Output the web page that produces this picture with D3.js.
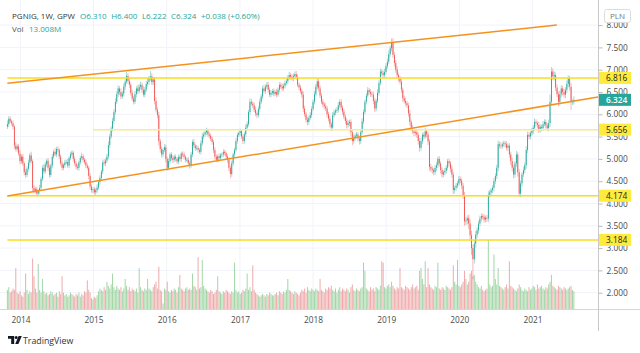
<!DOCTYPE html>
<html><head><meta charset="utf-8">
<script src="https://cdn.jsdelivr.net/npm/d3@7"></script>
<style>html,body{margin:0;padding:0;background:#fff}svg{display:block;font-family:"Open Sans","Noto Sans",sans-serif}</style>
</head><body><svg id="c" width="640" height="353"></svg>
<script>
// ---------------- DATA ----------------
const firstWeek = "2013-10-28";   // weekly candles, Mondays
const firstOpen = 5.72;
const closes = [
5.78,5.90,5.84,5.80,5.72,5.30,5.22,5.28,5.12,4.95,
5.05,4.90,4.70,4.64,4.78,4.92,5.08,4.95,4.35,4.28,
4.32,4.22,4.28,4.35,4.55,4.80,4.72,4.88,4.96,4.80,
4.64,4.85,5.05,5.16,5.10,5.22,5.20,5.05,4.90,4.80,
4.86,4.92,4.93,4.85,5.02,5.10,5.14,5.00,4.90,4.82,
4.80,4.92,5.02,5.06,4.98,4.93,4.85,4.80,4.62,4.38,
4.30,4.32,4.25,4.30,4.36,4.48,4.57,4.72,4.92,4.90,
4.96,5.05,5.31,5.50,5.68,5.85,6.05,6.28,6.45,6.58,
6.50,6.40,6.46,6.62,6.73,6.86,6.75,6.66,6.48,6.35,
6.28,6.45,6.58,6.52,6.62,6.66,6.55,6.44,6.55,6.68,
6.73,6.80,6.85,6.72,6.78,6.30,6.10,5.98,5.40,5.22,
5.10,5.20,5.26,5.00,4.80,4.95,5.10,5.02,4.98,5.05,
5.00,4.94,5.04,5.00,5.12,5.10,5.04,4.98,4.98,4.90,
4.85,5.10,5.38,5.30,5.24,5.25,5.20,5.16,5.35,5.50,
5.55,5.60,5.64,5.55,5.52,5.45,5.38,5.20,5.05,4.98,
5.06,5.02,5.08,5.10,5.16,5.13,5.05,4.98,4.80,4.66,
4.90,5.10,5.20,5.40,5.54,5.58,5.62,5.50,5.40,5.55,
5.70,5.78,6.05,6.28,6.24,6.20,6.10,6.02,5.98,6.12,
6.28,6.40,6.58,6.52,6.62,6.66,6.55,6.44,6.48,6.52,
6.46,6.50,6.44,6.55,6.66,6.62,6.58,6.64,6.70,6.74,
6.82,6.88,6.84,6.80,6.86,6.90,6.84,6.66,6.60,6.52,
6.44,6.13,6.00,5.88,5.83,5.92,5.98,6.12,6.28,6.45,
6.62,6.74,6.58,6.42,6.28,6.22,6.18,6.13,6.00,5.90,
5.78,5.70,5.98,6.04,6.08,6.10,6.20,6.28,6.15,6.06,
5.95,5.85,5.76,5.80,5.83,5.60,5.40,5.48,5.52,5.55,
5.46,5.40,5.60,5.84,6.05,6.28,6.42,6.54,6.50,6.46,
6.44,6.30,6.13,6.30,6.48,6.70,6.96,6.92,6.88,6.95,
7.08,7.18,7.35,7.48,7.62,7.33,7.15,7.00,6.88,6.80,
6.73,6.55,6.36,6.30,6.25,6.20,6.02,5.83,5.70,5.62,
5.58,5.60,5.54,5.40,5.25,5.40,5.54,5.50,5.62,5.55,
5.39,4.82,4.78,4.75,4.70,4.80,4.86,5.00,4.90,4.75,
4.65,4.70,4.73,4.80,4.95,4.90,4.78,4.65,4.30,4.35,
4.40,4.45,4.55,4.52,4.40,4.18,3.60,3.62,3.67,3.55,
3.29,3.00,2.75,3.10,3.30,3.40,3.55,3.66,3.72,3.70,
3.64,3.68,3.66,4.20,4.25,4.30,4.35,4.50,4.62,4.80,
5.33,5.30,5.28,5.33,5.35,5.33,5.25,5.30,5.10,4.95,
4.80,4.65,4.90,5.10,4.70,4.22,4.45,4.65,4.75,4.86,
5.20,5.54,5.50,5.58,5.62,5.70,5.83,5.80,5.76,5.65,
5.72,5.69,5.78,5.83,5.75,5.69,5.80,6.28,6.96,6.85,
6.88,6.60,6.45,6.28,6.45,6.58,6.50,6.44,6.55,6.68,
6.80,6.62,6.28,6.286,6.324
];
// wick extent above the body / below the body, in grosze (0.01 PLN)
const wickHigh = [
8,6,5,4,6,4,7,5,6,8, 5,6,4,7,5,6,5,8,4,6, 5,6,4,7,5,6,8,5,4,6, 7,5,6,4,8,5,6,4,5,6,
4,6,5,7,4,6,5,4,6,5, 6,4,5,8,5,4,6,5,4,6, 5,4,6,5,7,5,6,4,5,7, 5,6,8,6,5,7,6,8,6,7,
5,8,6,7,6,9,6,8,5,7, 6,7,5,8,6,7,5,8,6,7, 8,6,12,7,6,5,8,6,7,5, 6,5,7,6,5,6,4,5,6,4,
5,4,6,5,4,5,6,4,5,6, 5,6,5,7,4,6,5,4,6,8, 6,5,6,4,5,6,5,4,6,5, 4,6,5,4,6,5,4,5,6,5,
6,4,5,6,5,4,6,5,6,5, 7,6,5,8,6,5,6,7,5,6, 7,5,6,8,5,6,7,5,6,5, 6,5,7,5,6,5,7,5,6,5,
6,7,5,6,5,6,7,6,5,6, 5,7,6,5,6,5,7,6,5,7, 6,5,7,6,5,6,5,7,6,5, 6,5,7,6,5,6,7,5,6,5,
6,5,6,7,5,6,5,6,5,6, 5,6,5,7,6,5,6,7,5,6, 5,7,6,5,8,6,7,5,6,7, 6,7,8,6,8,9,7,6,7,5,
6,7,5,6,7,5,6,7,5,6, 5,6,7,5,6,7,5,6,7,5, 6,5,7,6,5,6,7,5,6,5, 6,5,7,6,5,6,5,7,6,5,
6,5,7,6,5,6,8,7,6,8, 9,10,8,9,8,7,6,7,6,5, 6,5,6,8,6,5,6,7,6,7, 8,6,7,5,6,5,7,6,5,6,
7,6,5,8,6,7,6,5,7,6, 8,7,6,5,7,6,8,6,5,7, 6,5,7,6,5,6,8,16,10,7, 8,6,7,6,8,7,6,7,6,8,
7,6,8,5,7.6
];
const wickLow = [
5,6,4,5,6,8,5,6,5,7, 6,5,7,6,5,6,7,5,8,6, 5,6,5,6,7,5,6,5,6,7, 6,5,6,5,4,6,5,6,5,6,
5,6,4,5,6,5,4,6,5,6, 5,6,5,4,6,5,6,5,8,7, 6,7,5,8,6,5,6,5,6,5, 6,5,6,7,5,6,7,6,5,6,
7,6,5,6,7,5,6,7,6,5, 6,5,7,6,5,6,7,5,6,5, 6,7,5,6,7,8,6,7,10,8, 7,6,5,8,7,6,5,6,7,5,
6,5,6,5,7,6,5,6,5,6, 7,5,6,5,6,5,6,5,6,5, 6,5,6,5,6,5,6,7,6,5, 6,5,6,5,6,5,6,7,8,10,
6,5,6,5,6,5,6,5,7,6, 5,6,5,6,5,6,5,6,7,5, 6,5,6,5,6,5,6,5,6,5, 6,5,6,5,6,5,6,5,6,5,
6,5,6,5,6,5,6,5,6,5, 7,8,6,7,8,6,5,6,5,6, 5,6,7,6,5,6,7,6,7,6, 7,8,6,5,6,5,6,5,6,7,
6,7,8,6,7,9,10,6,7,6, 7,8,6,5,6,5,6,5,6,7, 6,7,8,6,5,6,5,6,7,6, 5,6,5,6,7,6,8,7,6,7,
6,7,8,6,7,6,7,8,7,6, 7,6,7,8,9,6,7,6,5,7, 8,9,7,8,7,6,7,6,7,8, 7,6,7,6,5,7,8,7,9,8,
7,6,5,7,8,8,10,8,9,12, 12,15,45,10,9,8,7,6,7,6, 7,6,7,8,7,6,7,8,6,7, 8,7,6,5,6,7,6,7,8,9,
8,9,7,8,10,7,8,7,6,7, 8,7,6,7,6,7,6,7,8,7, 6,7,6,5,7,6,7,8,9,8, 9,8,7,10,8,7,8,7,8,7,
8,9,18,7,6.4
];
// weekly volume, millions of shares
const volumes = [
14,16,12,13,15,14,30,12,11,13, 10,9,12,26,14,11,13,12,37,24, 15,12,33,14,12,22,13,11,12,10,
11,13,12,10,11,12,9,13,11,24, 12,10,11,9,10,12,11,10,9,11, 10,12,9,11,10,13,12,21,14,12,
8,7,9,8,10,13,15,14,13,16, 14,20,17,15,18,26,16,14,17,15, 14,16,13,15,22,17,14,16,13,15,
14,13,15,12,30,16,14,13,15,14, 22,15,14,13,16,18,20,15,31,14, 13,4,15,14,20,13,12,14,13,15,
14,12,16,25,15,14,13,15,16,14, 15,14,26,17,16,14,38,15,16,36, 17,15,14,13,12,14,13,11,12,14,
24,13,12,11,13,12,14,13,12,11, 13,12,34,14,12,13,11,12,14,13, 15,26,14,16,13,32,14,12,11,10,
9,10,11,10,9,11,10,12,11,10, 10,11,12,10,13,12,11,13,12,14, 22,14,13,12,11,13,12,11,10,12,
14,13,15,12,16,14,13,15,14,13, 15,14,13,22,14,13,12,15,14,16, 15,17,14,13,15,12,14,16,13,15,
14,13,15,14,12,16,18,14,13,15, 14,13,15,16,34,28,15,14,13,16, 14,15,13,16,15,14,17,35,34,16,
15,17,18,16,20,17,15,14,16,15, 30,16,15,14,17,16,15,14,16,18, 15,16,17,14,28,30,22,18,35,16,
30,18,16,15,14,17,16,34,15,14, 16,15,14,17,16,15,14,16,32,20, 18,36,17,16,18,20,28,22,18,20,
26,28,24,25,20,18,16,15,17,14, 13,14,15,51,18,16,17,40,22,18, 30,17,16,15,14,16,18,15,35,17,
16,15,14,13,15,18,16,14,13,15, 14,13,16,14,15,17,16,14,18,15, 16,17,15,14,16,15,18,20,25,17,
16,15,14,17,16,15,14,16,15,14, 15,16,17,14,13.008
];
const priceTicks = [2.0,2.5,3.0,3.5,4.0,4.5,5.0,5.5,6.0,6.5,7.0,7.5,8.0];
const yearTicks = [2014,2015,2016,2017,2018,2019,2020,2021];
// horizontal levels: price, start date
const levelPrices = [6.816, 5.656, 4.174, 3.184];
const levelStarts = ["2013-10-28","2014-12-29","2013-10-28","2013-10-28"];
// trend lines: two anchor points [date, price]
const upperChannel = [["2013-10-28",6.696],["2021-05-02",8.002]];   // segment
const lowerChannel = [["2013-10-28",4.168],["2021-01-01",6.141]];   // extended to the right
const lastPrice = 6.324;
const headerTitle = "PGNIG, 1W, GPW";
const headerOHLC = ["O6.310","H6.400","L6.222","C6.324","+0.038 (+0.60%)"];
const volLabel = "Vol", volValue = "13.008M";

// ---------------- CHART ----------------
const svg = d3.select("#c");
const plotR = 598, plotB = 309;
const UP = "#26a69a", DOWN = "#ef5350";
const parse = d3.utcParse("%Y-%m-%d");
const x = d3.scaleUtc()
  .domain([new Date(Date.UTC(2014,0,1)), new Date(Date.UTC(2021,0,1))])
  .range([20.4, 532.6]);
const y = d3.scaleLinear().domain([2,8]).range([292.7,25.1]);
const yv = d3.scaleLinear().domain([0,55]).range([plotB, plotB-75]);

const t0 = parse(firstWeek);
const candles = closes.map((c,i)=>{
  const o = i===0 ? firstOpen : closes[i-1];
  return {date:d3.utcDay.offset(t0, 7*i), o, c,
    h: Math.max(o,c) + wickHigh[i]/100, l: Math.min(o,c) - wickLow[i]/100,
    v: volumes[i], up: c >= o};
});

// grid
const grid = svg.append("g");
grid.selectAll("line.h").data(priceTicks).join("line").attr("class","h")
  .attr("x1",0).attr("x2",plotR).attr("y1",d=>y(d)).attr("y2",d=>y(d))
  .attr("stroke","#f0f3fa").attr("stroke-width",1);
grid.selectAll("line.v").data(yearTicks).join("line").attr("class","v")
  .attr("x1",d=>x(new Date(Date.UTC(d,0,1)))).attr("x2",d=>x(new Date(Date.UTC(d,0,1))))
  .attr("y1",0).attr("y2",plotB).attr("stroke","#f0f3fa").attr("stroke-width",1);

// volume
svg.append("g").selectAll("rect").data(candles).join("rect")
  .attr("x",d=>x(d.date)-0.5).attr("width",1)
  .attr("y",d=>yv(d.v)).attr("height",d=>plotB-yv(d.v))
  .attr("fill",d=>d.up ? "#66bb6a" : "#e57373")
  .attr("opacity",0.6);

// candles
const cg = svg.append("g");
cg.selectAll("line").data(candles).join("line")
  .attr("x1",d=>x(d.date)).attr("x2",d=>x(d.date))
  .attr("y1",d=>y(d.h)).attr("y2",d=>y(d.l))
  .attr("stroke",d=>d.up?UP:DOWN).attr("stroke-width",0.6).attr("opacity",0.7);
cg.selectAll("rect").data(candles).join("rect")
  .attr("x",d=>x(d.date)-0.45).attr("width",0.9)
  .attr("y",d=>y(Math.max(d.o,d.c)))
  .attr("height",d=>Math.max(0.8, Math.abs(y(d.o)-y(d.c))))
  .attr("fill",d=>d.up?UP:DOWN);

// horizontal levels
const levels = levelPrices.map((p,i)=>({p, start: parse(levelStarts[i])}));
svg.append("g").selectAll("line").data(levels).join("line")
  .attr("x1",d=>x(d.start)).attr("x2",plotR)
  .attr("y1",d=>y(d.p)).attr("y2",d=>y(d.p))
  .attr("stroke",d=>d.p===5.656 ? "#fbe98a" : "#f8dd1e").attr("stroke-width",1.5);

// trend lines
const tl = svg.append("g").attr("stroke","#f5921e").attr("stroke-width",1.5);
{
  const a = upperChannel.map(([d,p])=>[x(parse(d)), y(p)]);
  tl.append("line").attr("x1",a[0][0]).attr("y1",a[0][1]).attr("x2",a[1][0]).attr("y2",a[1][1]);
  const b = lowerChannel.map(([d,p])=>[x(parse(d)), y(p)]);
  const slope = (b[1][1]-b[0][1])/(b[1][0]-b[0][0]);
  tl.append("line").attr("x1",b[0][0]).attr("y1",b[0][1]).attr("x2",plotR).attr("y2",b[0][1]+slope*(plotR-b[0][0]));
}

// frame lines
svg.append("line").attr("x1",0).attr("x2",640).attr("y1",plotB+0.5).attr("y2",plotB+0.5).attr("stroke","#d6d6d6");
svg.append("line").attr("x1",plotR+0.5).attr("x2",plotR+0.5).attr("y1",0).attr("y2",331).attr("stroke","#c8c8c8");

// price axis
const ya = svg.append("g").attr("transform",`translate(${plotR+0.5},0)`)
  .call(d3.axisRight(y).tickValues(priceTicks).tickFormat(d3.format(".3f")).tickSize(4).tickPadding(4));
ya.select(".domain").remove();
ya.selectAll("line").attr("stroke","#bbb");
ya.selectAll("text").attr("fill","#4a4a4a").style("font-size","8.3px").style("font-family",'"Open Sans",sans-serif');

// year axis
const xa = svg.append("g").attr("transform",`translate(0,${plotB})`)
  .call(d3.axisBottom(x).tickValues(yearTicks.map(d=>new Date(Date.UTC(d,0,1)))).tickFormat(d3.utcFormat("%Y")).tickSize(0).tickPadding(8));
xa.select(".domain").remove();
xa.selectAll("text").attr("fill","#4a4a4a").style("font-size","8.3px").style("font-family",'"Open Sans",sans-serif');

// price labels on axis
const boxes = levelPrices.map(p=>({p, fill:"#ffeb3b", txt:"#222"}))
  .concat([{p:lastPrice, fill:"#26a69a", txt:"#fff"}]);
const bg = svg.append("g");
bg.selectAll("rect").data(boxes).join("rect")
  .attr("x",plotR+1).attr("width",32).attr("y",d=>y(d.p)-6).attr("height",12).attr("fill",d=>d.fill);
bg.selectAll("text").data(boxes).join("text")
  .attr("x",plotR+8).attr("y",d=>y(d.p)).attr("dy","0.35em")
  .attr("fill",d=>d.txt).style("font-size","8.3px").style("font-weight",d=>d.txt==="#fff"?"600":"400")
  .text(d=>d3.format(".3f")(d.p));

// PLN box
svg.append("rect").attr("x",604.5).attr("y",9.5).attr("width",26).attr("height",13).attr("rx",2)
  .attr("fill","#fff").attr("stroke","#dcdcdc");
svg.append("text").attr("x",617.5).attr("y",19).attr("text-anchor","middle")
  .attr("fill","#777").style("font-size","8px").text("PLN");

// header
svg.append("text").attr("x",12).attr("y",19).style("font-size","8px").attr("fill","#333").text(headerTitle);
{
  let hx = 80;
  headerOHLC.forEach(t=>{
    const el = svg.append("text").attr("x",hx).attr("y",19).style("font-size","8px")
      .attr("fill","#26a69a").text(t);
    hx += el.node().getComputedTextLength() + 4.5;
  });
}
const vl = svg.append("text").attr("x",12).attr("y",32).style("font-size","8px");
vl.append("tspan").attr("fill","#555").text(volLabel);
vl.append("tspan").attr("x",29).attr("fill","#26a69a").text(volValue);

// TradingView logo
const lg = svg.append("g").attr("fill","#131722");
lg.append("path").attr("d","M8,336 h6.2 v8 h-3 v-5.2 h-3.2 z");
lg.append("circle").attr("cx",16.2).attr("cy",337.6).attr("r",1.5);
lg.append("path").attr("d","M15.2,344 L18.6,336 H21.8 L18.4,344 Z");
svg.append("text").attr("x",23).attr("y",344).attr("fill","#333").style("font-size","8.8px").text("TradingView");
</script></body></html>
